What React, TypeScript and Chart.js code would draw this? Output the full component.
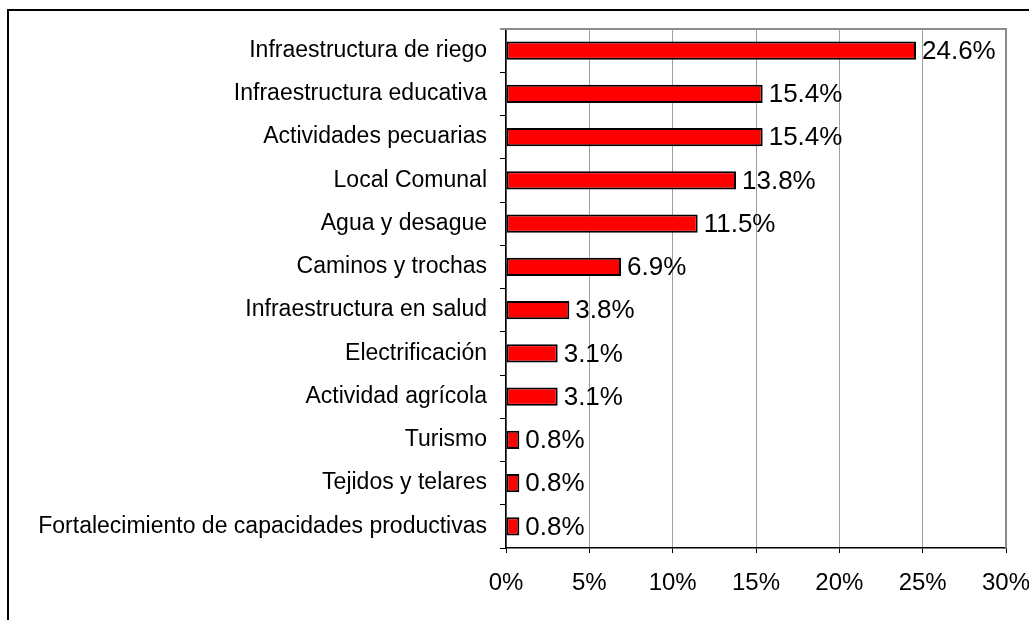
import React, { useEffect, useRef } from "react";
import { Chart, registerables } from "chart.js";

Chart.register(...registerables);

const categories = [
  "Infraestructura de riego",
  "Infraestructura educativa",
  "Actividades pecuarias",
  "Local Comunal",
  "Agua y desague",
  "Caminos y trochas",
  "Infraestructura en salud",
  "Electrificación",
  "Actividad agrícola",
  "Turismo",
  "Tejidos y telares",
  "Fortalecimiento de capacidades productivas",
];
const values = [24.6, 15.4, 15.4, 13.8, 11.5, 6.9, 3.8, 3.1, 3.1, 0.8, 0.8, 0.8];
const valueLabels = ["24.6%", "15.4%", "15.4%", "13.8%", "11.5%", "6.9%", "3.8%", "3.1%", "3.1%", "0.8%", "0.8%", "0.8%"];
const xTicks = [0, 5, 10, 15, 20, 25, 30];

const FONT = "Arial, 'Liberation Sans', sans-serif";

export default function App() {
  const ref = useRef<HTMLCanvasElement | null>(null);
  useEffect(() => {
    if (!ref.current) return;
    const frame = {
      id: "frame",
      beforeDatasetsDraw(chart: any) {
        const { ctx, chartArea: a } = chart;
        ctx.save();
        ctx.strokeStyle = "#8c8c8c";
        ctx.lineWidth = 2;
        ctx.beginPath();
        ctx.moveTo(a.left - 6, a.top);
        ctx.lineTo(a.right, a.top);
        ctx.lineTo(a.right, a.bottom);
        ctx.stroke();
        ctx.restore();
      },
    };
    const labels = {
      id: "vlabels",
      afterDatasetsDraw(chart: any) {
        const { ctx } = chart;
        const meta = chart.getDatasetMeta(0);
        ctx.save();
        ctx.font = `26px ${FONT}`;
        ctx.fillStyle = "#000";
        ctx.textAlign = "left";
        ctx.textBaseline = "middle";
        meta.data.forEach((el: any, i: number) => {
          ctx.fillText(valueLabels[i], el.x + 6, el.y + 1);
        });
        ctx.restore();
      },
    };
    const chart = new Chart(ref.current, {
      type: "bar",
      data: {
        labels: categories,
        datasets: [
          {
            data: values,
            backgroundColor: "#ff0000",
            borderColor: "#000000",
            borderWidth: 2,
            borderSkipped: false,
            categoryPercentage: 1,
            barPercentage: 0.42,
          },
        ],
      },
      options: {
        indexAxis: "y",
        animation: false,
        responsive: false,
        maintainAspectRatio: false,
        layout: { padding: { top: 29, right: 23, left: 0, bottom: 0 } },
        plugins: { legend: { display: false }, tooltip: { enabled: false } },
        scales: {
          x: {
            min: 0,
            max: 30,
            afterBuildTicks(scale: any) {
              scale.ticks = xTicks.map((v) => ({ value: v }));
            },
            afterFit(scale: any) {
              scale.height = 72;
              scale.paddingRight = 0;
              scale.paddingLeft = 0;
            },
            ticks: {
              callback: (v: any) => v + "%",
              color: "#000",
              font: { family: FONT, size: 24 },
              padding: 16,
              maxRotation: 0,
            },
            grid: {
              color: "#a0a0a0",
              lineWidth: 1,
              tickColor: "#000",
              tickLength: 5,
            },
            border: { color: "#000", width: 1.5 },
          },
          y: {
            afterFit(scale: any) {
              scale.width = 506;
            },
            ticks: {
              color: "#000",
              font: { family: FONT, size: 23 },
              padding: 13,
            },
            grid: {
              drawOnChartArea: false,
              drawTicks: true,
              tickLength: 6,
              tickColor: "#000",
              offset: true,
            },
            border: { color: "#000", width: 1.5 },
          },
        },
      },
      plugins: [frame, labels],
    });
    return () => chart.destroy();
  }, []);
  return (
    <div style={{ position: "fixed", left: 0, top: 0, width: 1029, height: 620, background: "#fff", overflow: "hidden" }}>
      <canvas ref={ref} width={1029} height={620} style={{ position: "absolute", left: 0, top: 0, width: 1029, height: 620 }} />
      <div
        style={{
          position: "absolute",
          left: 7,
          top: 9,
          width: 1100,
          height: 700,
          borderLeft: "2px solid #000",
          borderTop: "2px solid #000",
          pointerEvents: "none",
        }}
      />
    </div>
  );
}
